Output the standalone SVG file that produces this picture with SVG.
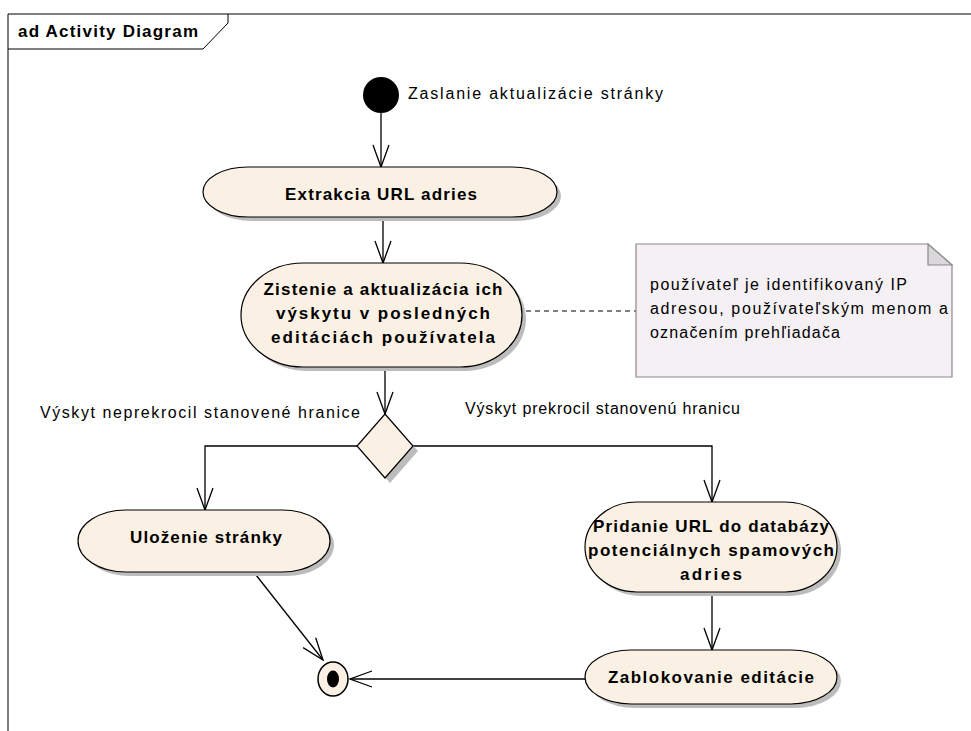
<svg xmlns="http://www.w3.org/2000/svg" width="971" height="731" viewBox="0 0 971 731">
  <style>
    .frame { fill: none; stroke: #000; stroke-width: 1; }
    .act { fill: #faf0e3; stroke: #000; stroke-width: 1.2; }
    .shadow { fill: #bcbcbc; stroke: none; }
    .edge { fill: none; stroke: #000; stroke-width: 1.3; }
    .note { fill: #f4f0f4; stroke: #8a8a8a; stroke-width: 1.2; }
    .fold { fill: #d9d7d9; stroke: #8a8a8a; stroke-width: 1.2; }
    .lbl { font-family: "Liberation Sans", Arial, sans-serif; font-size: 17px; font-weight: bold; fill: #000; }
    .txt { font-family: "Liberation Sans", Arial, sans-serif; font-size: 16px; fill: #000; }
  </style>
  <defs>
    <marker id="open" markerUnits="userSpaceOnUse" markerWidth="26" markerHeight="20" refX="23" refY="9" orient="auto">
      <path d="M1,1 L23,9 L1,17" fill="none" stroke="#000" stroke-width="1.3"/>
    </marker>
  </defs>

  <rect width="971" height="731" fill="#fff"/>

  <!-- diagram frame -->
  <g id="frame">
    <path class="frame" d="M8,731 L8,14 L971,14"/>
    <path class="frame" d="M228,14 L228,23 L203,49 L8,49"/>
    <text x="18" y="37" class="lbl" textLength="180" lengthAdjust="spacing">ad Activity Diagram</text>
  </g>

  <!-- connectors -->
  <g id="connectors">
    <line class="edge" x1="381" y1="113" x2="381" y2="167" marker-end="url(#open)"/>
    <line class="edge" x1="383" y1="217" x2="383" y2="263" marker-end="url(#open)"/>
    <line class="edge" x1="385" y1="367" x2="385" y2="414" marker-end="url(#open)"/>
    <polyline class="edge" points="357,446 205,446 205,510" marker-end="url(#open)"/>
    <polyline class="edge" points="413,446 712,446 712,502" marker-end="url(#open)"/>
    <line class="edge" x1="712" y1="594" x2="712" y2="650" marker-end="url(#open)"/>
    <line class="edge" x1="585" y1="679" x2="350" y2="679" marker-end="url(#open)"/>
    <line class="edge" x1="256" y1="575" x2="323" y2="660" marker-end="url(#open)"/>
    <line x1="526" y1="311" x2="636" y2="311" stroke="#000" stroke-width="1.2" stroke-dasharray="5,4"/>
    <text x="408" y="99" class="txt" textLength="255" lengthAdjust="spacing">Zaslanie aktualizácie stránky</text>
    <text x="40" y="418" class="txt" textLength="320" lengthAdjust="spacing">Výskyt neprekrocil stanovené hranice</text>
    <text x="465" y="414" class="txt" textLength="275" lengthAdjust="spacing">Výskyt prekrocil stanovenú hranicu</text>
  </g>

  <!-- start -->
  <g id="start">
    <circle cx="381" cy="95" r="18" fill="#000"/>
  </g>

  <g id="extrakcia">
    <rect class="shadow" x="207" y="171" width="354" height="50" rx="45" ry="25"/>
    <rect class="act" x="203" y="167" width="354" height="50" rx="45" ry="25"/>
    <text x="381" y="200" class="lbl" text-anchor="middle" textLength="192" lengthAdjust="spacing">Extrakcia URL adries</text>
  </g>

  <g id="zistenie">
    <rect class="shadow" x="245" y="267" width="281" height="104" rx="62" ry="52"/>
    <rect class="act" x="241" y="263" width="281" height="104" rx="62" ry="52"/>
    <text x="383" y="295" class="lbl" text-anchor="middle" textLength="239" lengthAdjust="spacing">Zistenie a aktualizácia ich</text>
    <text x="383" y="319" class="lbl" text-anchor="middle" textLength="214" lengthAdjust="spacing">výskytu v posledných</text>
    <text x="383" y="343" class="lbl" text-anchor="middle" textLength="224" lengthAdjust="spacing">editáciách používatela</text>
  </g>

  <g id="note">
    <path class="note" d="M636,244 L928,244 L952,265 L952,377 L636,377 Z"/>
    <path class="fold" d="M928,244 L928,265 L952,265 Z"/>
    <text x="650" y="290" class="txt" textLength="257" lengthAdjust="spacing">používateľ je identifikovaný IP</text>
    <text x="650" y="314" class="txt" textLength="298" lengthAdjust="spacing">adresou, používateľským menom a</text>
    <text x="650" y="338" class="txt" textLength="190" lengthAdjust="spacing">označením prehľiadača</text>
  </g>

  <g id="decision">
    <polygon points="390,419 418,451 390,483 362,451" fill="#bcbcbc"/>
    <polygon points="385,414 413,446 385,478 357,446" class="act"/>
  </g>

  <g id="ulozenie">
    <rect class="shadow" x="82" y="514" width="252" height="62" rx="48" ry="31"/>
    <rect class="act" x="78" y="510" width="252" height="62" rx="48" ry="31"/>
    <text x="206" y="543" class="lbl" text-anchor="middle" textLength="152" lengthAdjust="spacing">Uloženie stránky</text>
  </g>

  <g id="pridanie">
    <rect class="shadow" x="589" y="506" width="252" height="90" rx="52" ry="45"/>
    <rect class="act" x="585" y="502" width="252" height="90" rx="52" ry="45"/>
    <text x="711" y="532" class="lbl" text-anchor="middle" textLength="236" lengthAdjust="spacing">Pridanie URL do databázy</text>
    <text x="711" y="556" class="lbl" text-anchor="middle" textLength="246" lengthAdjust="spacing">potenciálnych spamových</text>
    <text x="711" y="580" class="lbl" text-anchor="middle" textLength="62" lengthAdjust="spacing">adries</text>
  </g>

  <g id="zablokovanie">
    <rect class="shadow" x="589" y="654" width="252" height="54" rx="46" ry="27"/>
    <rect class="act" x="585" y="650" width="252" height="54" rx="46" ry="27"/>
    <text x="711" y="683" class="lbl" text-anchor="middle" textLength="206" lengthAdjust="spacing">Zablokovanie editácie</text>
  </g>

  <!-- final -->
  <g id="final">
    <ellipse cx="333" cy="679" rx="15" ry="17" fill="#faf0e3" stroke="#000" stroke-width="1.5"/>
    <ellipse cx="333" cy="679" rx="6" ry="8.5" fill="#000"/>
  </g>
</svg>
